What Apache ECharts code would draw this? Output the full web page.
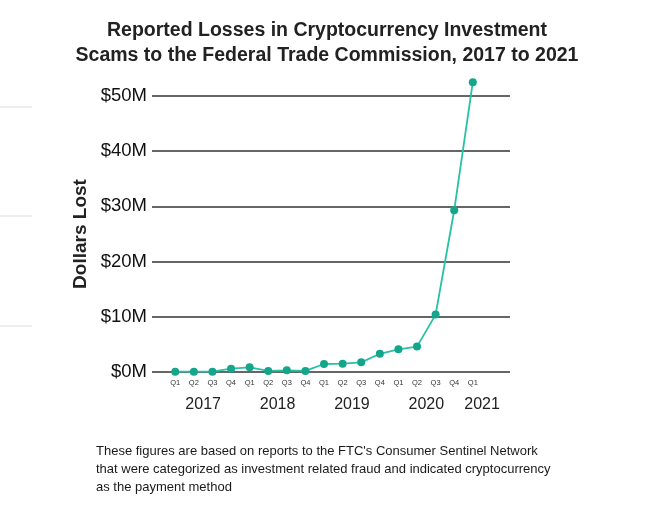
<!DOCTYPE html>
<html>
<head>
<meta charset="utf-8">
<script src="https://cdn.jsdelivr.net/npm/echarts@6/dist/echarts.min.js"></script>
<style>html,body{margin:0;padding:0;background:#fff;}#c{width:660px;height:505px;}</style>
</head>
<body>
<div id="c"></div>
<script>
const quarters = ['Q1','Q2','Q3','Q4','Q1','Q2','Q3','Q4','Q1','Q2','Q3','Q4','Q1','Q2','Q3','Q4','Q1'];
const years = ['2017','2018','2019','2020','2021'];
const yearPositions = [1.5, 5.5, 9.5, 13.5, 16.5];
const lossesMillions = [0.05, 0.05, 0.05, 0.6, 0.85, 0.2, 0.3, 0.2, 1.45, 1.5, 1.75, 3.3, 4.1, 4.6, 10.4, 29.3, 52.5];
const yTicks = [0, 10, 20, 30, 40, 50];

const FONT = 'Liberation Sans, Arial, sans-serif';
const chart = echarts.init(document.getElementById('c'), null, {renderer: 'canvas'});
const seriesData = lossesMillions.map((v, i) => [i, v]);

chart.setOption({
  animation: false,
  backgroundColor: '#ffffff',
  title: [{
    text: 'Reported Losses in Cryptocurrency Investment\nScams to the Federal Trade Commission, 2017 to 2021',
    left: 322, top: 13, textAlign: 'center',
    textStyle: {fontFamily: FONT, fontSize: 19.5, fontWeight: 'bold', color: '#222', lineHeight: 25}
  }, {
    text: "These figures are based on reports to the FTC's Consumer Sentinel Network\nthat were categorized as investment related fraud and indicated cryptocurrency\nas the payment method",
    left: 91, top: 437,
    textStyle: {fontFamily: FONT, fontSize: 13, fontWeight: 'normal', color: '#1a1a1a', lineHeight: 18}
  }],
  grid: {left: 152, right: 150, top: 96, bottom: 133, containLabel: false},
  xAxis: [{
    type: 'value', min: -1.25, max: 18, interval: 0.25,
    axisLine: {show: false}, axisTick: {show: false}, splitLine: {show: false},
    axisLabel: {
      margin: 7, fontFamily: FONT, fontSize: 7.5, color: '#333', showMinLabel: true, showMaxLabel: true,
      formatter: v => {
        const i = Math.round(v);
        return (Math.abs(v - i) < 1e-6 && i >= 0 && i < quarters.length) ? quarters[i] : '';
      }
    }
  }, {
    type: 'value', min: -1.25, max: 18, interval: 0.25, position: 'bottom',
    axisLine: {show: false}, axisTick: {show: false}, splitLine: {show: false},
    axisLabel: {
      margin: 25, fontFamily: FONT, fontSize: 16, color: '#222',
      formatter: v => {
        const k = yearPositions.findIndex(p => Math.abs(p - v) < 1e-6);
        return k >= 0 ? years[k] : '';
      }
    }
  }],
  yAxis: {
    type: 'value', min: yTicks[0], max: yTicks[yTicks.length - 1], interval: 10,
    name: 'Dollars Lost', nameLocation: 'middle', nameGap: 60, nameRotate: 90,
    nameTextStyle: {fontFamily: FONT, fontSize: 19, fontWeight: 'bold', color: '#222'},
    axisLine: {show: false}, axisTick: {show: false},
    axisLabel: {margin: 5, fontFamily: FONT, fontSize: 18.5, color: '#111', formatter: v => '$' + v + 'M'},
    splitLine: {show: true, showMinLine: true, showMaxLine: true, lineStyle: {color: '#333', width: 1.6}}
  },
  series: [{
    type: 'line', xAxisIndex: 0, data: seriesData, clip: false,
    symbol: 'circle', symbolSize: 8,
    lineStyle: {color: '#27c1a3', width: 1.8},
    itemStyle: {color: '#14a58a'},
    z: 5
  }],
  graphic: [
    {type: 'line', shape: {x1: 0, y1: 107, x2: 32, y2: 107}, style: {stroke: '#dddddd', lineWidth: 1}},
    {type: 'line', shape: {x1: 0, y1: 216, x2: 32, y2: 216}, style: {stroke: '#dddddd', lineWidth: 1}},
    {type: 'line', shape: {x1: 0, y1: 326, x2: 32, y2: 326}, style: {stroke: '#dddddd', lineWidth: 1}}
  ]
});
</script>
</body>
</html>
